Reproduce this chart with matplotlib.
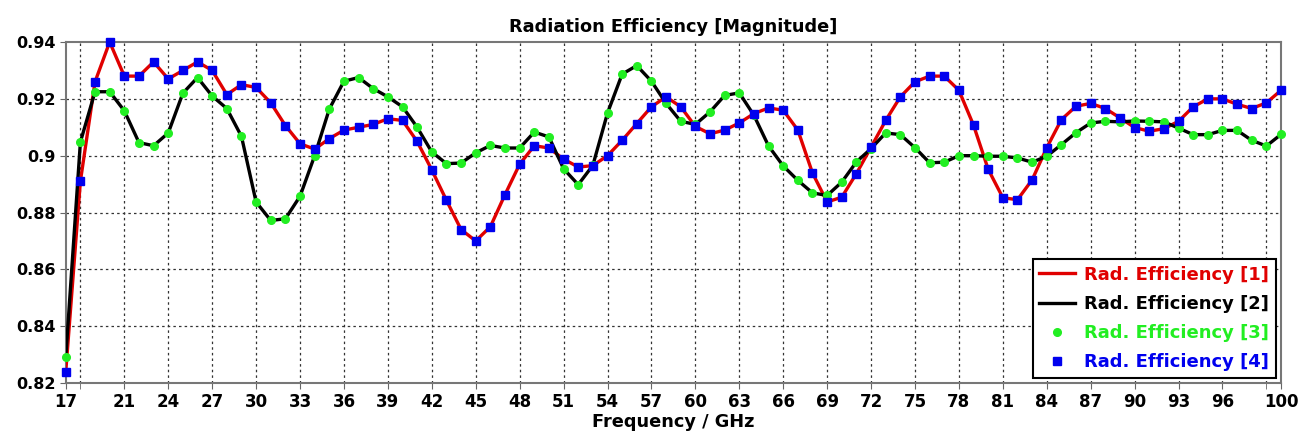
import numpy as np
import matplotlib
matplotlib.use("Agg")
import matplotlib.pyplot as plt

freq = np.arange(17, 101)

# Rad. Efficiency [1] (same curve as [4])
eff_1 = [0.824, 0.891, 0.926, 0.940, 0.928, 0.928, 0.933, 0.927, 0.930, 0.933,
         0.930, 0.9215, 0.925, 0.924, 0.9186, 0.9106, 0.9042, 0.9023, 0.906, 0.909,
         0.910, 0.911, 0.913, 0.9124, 0.905, 0.895, 0.8843, 0.874, 0.870, 0.875,
         0.8863, 0.897, 0.9035, 0.9027, 0.8988, 0.896, 0.8965, 0.900, 0.9054, 0.9113,
         0.9172, 0.9207, 0.9172, 0.9103, 0.9077, 0.909, 0.9115, 0.9148, 0.9168, 0.916,
         0.909, 0.8939, 0.8837, 0.8854, 0.8937, 0.903, 0.9124, 0.9207, 0.926, 0.928,
         0.928, 0.923, 0.9107, 0.8952, 0.8852, 0.8845, 0.8915, 0.9028, 0.9127, 0.9174,
         0.9184, 0.9166, 0.9133, 0.9099, 0.9086, 0.9095, 0.9121, 0.9172, 0.920, 0.920,
         0.9181, 0.9166, 0.9186, 0.923]

# Rad. Efficiency [2] (same curve as [3])
eff_2 = [0.829, 0.9048, 0.9225, 0.9225, 0.9158, 0.9046, 0.9035, 0.908, 0.922, 0.9275,
         0.921, 0.9166, 0.9068, 0.8837, 0.8772, 0.8778, 0.8857, 0.900, 0.9164, 0.9262,
         0.9275, 0.9236, 0.9207, 0.9172, 0.910, 0.9013, 0.8972, 0.8974, 0.901, 0.9036,
         0.9027, 0.9027, 0.9083, 0.9066, 0.8954, 0.8898, 0.8966, 0.915, 0.9287, 0.9317,
         0.9262, 0.9184, 0.9121, 0.911, 0.9154, 0.9212, 0.9221, 0.9142, 0.9034, 0.8964,
         0.8913, 0.8869, 0.886, 0.8907, 0.8978, 0.9025, 0.908, 0.9074, 0.9028, 0.8975,
         0.8977, 0.900, 0.900, 0.8998, 0.8998, 0.8992, 0.8977, 0.8998, 0.9039, 0.9081,
         0.9115, 0.9121, 0.9119, 0.9122, 0.9121, 0.9119, 0.9097, 0.9074, 0.9074, 0.9089,
         0.9089, 0.9054, 0.9034, 0.9075]

eff_3 = eff_2
eff_4 = eff_1

labels = ["Rad. Efficiency [1]", "Rad. Efficiency [2]",
          "Rad. Efficiency [3]", "Rad. Efficiency [4]"]
colors = ["#e00000", "#000000", "#22ee22", "#0000ee"]

xtick_pos = [17] + list(range(21, 97, 3)) + [100]
ygrid = [0.82, 0.84, 0.86, 0.88, 0.90, 0.92, 0.94]
ytick_labels = ["0.82", "0.84", "0.86", "0.88", "0.9", "0.92", "0.94"]

fig = plt.figure(figsize=(13.02, 4.45), dpi=100)
ax = fig.add_axes([0.0505, 0.1393, 0.9334, 0.7663])

ax.plot(freq, eff_1, color=colors[0], lw=2.4, label=labels[0], zorder=3)
ax.plot(freq, eff_2, color=colors[1], lw=2.4, label=labels[1], zorder=3)
ax.plot(freq, eff_3, linestyle="none", marker="o", ms=5.5, color=colors[2],
        label=labels[2], zorder=4, clip_on=False)
ax.plot(freq, eff_4, linestyle="none", marker="s", ms=5.5, color=colors[3],
        label=labels[3], zorder=5, clip_on=False)

ax.set_xlim(17, 100)
ax.set_ylim(0.82, 0.94)

# grid lines every 3 GHz, labels at the ends replaced by 17 / 100
for gx in range(18, 100, 3):
    ax.axvline(gx, color="#333333", lw=0.9, ls=(0, (2, 2.5)), zorder=1)
for gy in ygrid[1:-1]:
    ax.axhline(gy, color="#333333", lw=0.9, ls=(0, (2, 2.5)), zorder=1)

ax.set_xticks(xtick_pos)
ax.set_xticklabels([str(v) for v in xtick_pos])
ax.set_yticks(ygrid)
ax.set_yticklabels(ytick_labels)
ax.set_xticks(range(18, 100, 3), minor=True)
ax.tick_params(axis="x", which="major", labelsize=12, length=4,
               direction="out", color="#666666")
ax.tick_params(axis="y", which="major", labelsize=11.5, length=4,
               direction="out", color="#666666")
ax.tick_params(axis="x", which="minor", length=4, direction="out", color="#666666")
for t in ax.get_xticklabels() + ax.get_yticklabels():
    t.set_fontweight("bold")

for s in ax.spines.values():
    s.set_color("#777777")
    s.set_linewidth(1.5)

ax.set_title("Radiation Efficiency [Magnitude]", fontsize=12.8, fontweight="bold", pad=7)
ax.set_xlabel("Frequency / GHz", fontsize=12.8, fontweight="bold", labelpad=1)

leg = ax.legend(loc="lower right", fontsize=13, frameon=True, fancybox=False,
                edgecolor="black", framealpha=1, handlelength=2.0,
                borderaxespad=0.3, labelspacing=0.62, handletextpad=0.5,
                markerscale=1.0, borderpad=0.35)
leg.get_frame().set_linewidth(1.5)
for txt, c in zip(leg.get_texts(), colors):
    txt.set_color(c)
    txt.set_fontweight("bold")

fig.savefig("out.png", dpi=100)
